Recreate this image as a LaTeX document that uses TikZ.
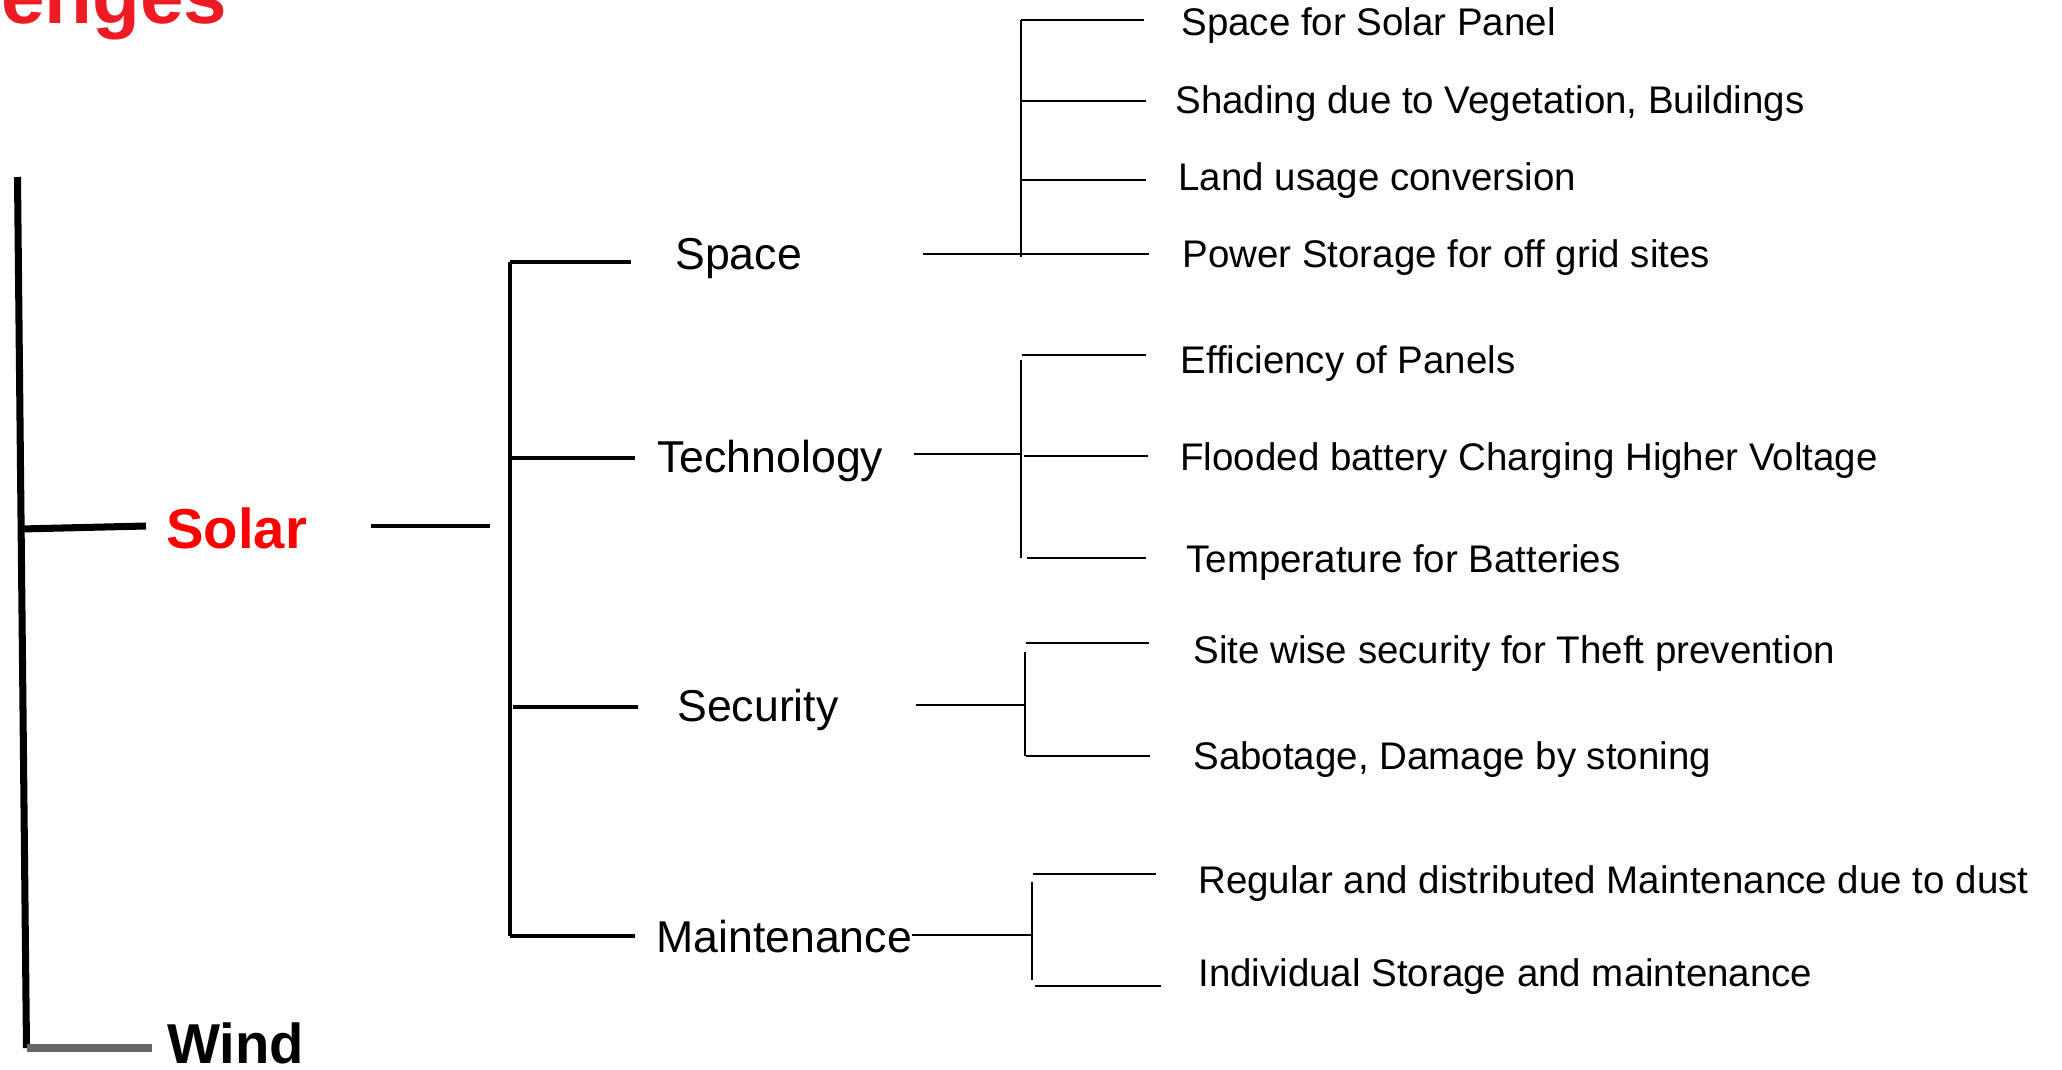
\documentclass[tikz,border=0pt]{standalone}
\usepackage{fontspec}
\setmainfont{Liberation Sans}
\definecolor{headred}{RGB}{237,28,36}
\definecolor{windgray}{RGB}{102,102,102}
\tikzset{
  trunk/.style={black, line width=4pt},
  bough/.style={black, line width=2.3pt},
  twig/.style={black, line width=1.3pt},
  kind/.style={anchor=base west, font=\fontsize{32}{36}\selectfont\bfseries},
  topic/.style={anchor=base west, font=\fontsize{25.4}{28}\selectfont},
  leaf/.style={anchor=base west, font=\fontsize{21.9}{24}\selectfont},
}
\begin{document}
\begin{tikzpicture}[scale=0.2]
\tikzstyle{every node}+=[inner sep=0pt]
\useasboundingbox (0,0) rectangle (206.2,-106.9);
\clip (0,0) rectangle (206.2,-106.9);
% heading, runs off the top edge
\draw (0.1,-2.3) node [anchor=base west, text=headred, font=\fontsize{44.5}{46}\selectfont\bfseries] (head) {enges};
% trunk with the two kinds
\coordinate (rtop) at (1.75,-17.7);
\coordinate (rbot) at (2.65,-104.8);
\coordinate (rsol) at (2.1,-52.9);
\coordinate (solin) at (14.6,-52.6);
\coordinate (rwind) at (2.7,-104.8);
\coordinate (windin) at (15.2,-104.8);
\draw [trunk] (rtop) -- (rbot);
\draw [trunk] (rsol) -- (solin);
\draw [trunk, windgray] (rwind) -- (windin);
\draw (16.6,-54.8) node [kind, text=red] (solar) {Solar};
\draw (16.7,-106.3) node [kind] (wind) {Wind};
% solar -> topics
\coordinate (solout) at (37.1,-52.6);
\coordinate (hubin) at (49.0,-52.6);
\draw [line width=2pt] (solout) -- (hubin);
\coordinate (htop) at (51.0,-26.2);
\coordinate (hbot) at (51.0,-93.6);
\coordinate (hsp) at (63.1,-26.2);
\coordinate (hte0) at (51.0,-45.8);
\coordinate (hte) at (63.5,-45.8);
\coordinate (hse0) at (51.3,-70.7);
\coordinate (hse) at (63.8,-70.7);
\coordinate (hmt) at (63.5,-93.6);
\draw [bough] (htop) -- (hbot);
\draw [bough] (htop) -- (hsp);
\draw [bough] (hte0) -- (hte);
\draw [bough] (hse0) -- (hse);
\draw [bough] (hbot) -- (hmt);
\draw (67.5,-26.9) node [topic] (space) {Space};
\draw (65.7,-47.2) node [topic] (tech) {Technology};
\draw (67.7,-72.1) node [topic] (secu) {Security};
\draw (65.6,-95.2) node [topic] (maint) {Maintenance};
% space
\coordinate (spin) at (92.3,-25.4);
\coordinate (spj) at (102.1,-25.4);
\coordinate (spt) at (102.1,-2.0);
\coordinate (spb) at (102.1,-25.7);
\coordinate (spj2) at (102.1,-10.1);
\coordinate (spj3) at (102.1,-18.0);
\coordinate (sp1) at (114.4,-2.0);
\coordinate (sp2) at (114.6,-10.1);
\coordinate (sp3) at (114.6,-18.0);
\coordinate (sp4) at (114.9,-25.4);
\draw [twig] (spin) -- (spj);
\draw [twig] (spt) -- (spb);
\draw [twig] (spt) -- (sp1);
\draw [twig] (spj2) -- (sp2);
\draw [twig] (spj3) -- (sp3);
\draw [twig] (spj) -- (sp4);
\draw (118.1,-3.5) node [leaf] (s1) {Space for Solar Panel};
\draw (117.5,-11.3) node [leaf] (s2) {Shading due to Vegetation, Buildings};
\draw (117.8,-19.0) node [leaf] (s3) {Land usage conversion};
\draw (118.2,-26.7) node [leaf] (s4) {Power Storage for off grid sites};
% technology
\coordinate (tein) at (91.4,-45.4);
\coordinate (tej) at (102.1,-45.4);
\coordinate (tet) at (102.1,-36.0);
\coordinate (teb) at (102.1,-55.8);
\coordinate (tej1) at (102.2,-35.5);
\coordinate (tej2) at (102.4,-45.6);
\coordinate (tej3) at (102.7,-55.8);
\coordinate (te1) at (114.6,-35.5);
\coordinate (te2) at (114.8,-45.6);
\coordinate (te3) at (114.6,-55.8);
\draw [twig] (tein) -- (tej);
\draw [twig] (tet) -- (teb);
\draw [twig] (tej1) -- (te1);
\draw [twig] (tej2) -- (te2);
\draw [twig] (tej3) -- (te3);
\draw (118.0,-37.3) node [leaf] (t1) {Efficiency of Panels};
\draw (118.0,-47.0) node [leaf] (t2) {Flooded battery Charging Higher Voltage};
\draw (118.6,-57.2) node [leaf] (t3) {Temperature for Batteries};
% security
\coordinate (sein) at (91.6,-70.5);
\coordinate (sej) at (102.5,-70.5);
\coordinate (set) at (102.5,-65.2);
\coordinate (seb) at (102.5,-75.6);
\coordinate (sej1) at (102.6,-64.3);
\coordinate (sej2) at (102.6,-75.6);
\coordinate (se1) at (114.9,-64.3);
\coordinate (se2) at (115.0,-75.6);
\draw [twig] (sein) -- (sej);
\draw [twig] (set) -- (seb);
\draw [twig] (sej1) -- (se1);
\draw [twig] (sej2) -- (se2);
\draw (119.3,-66.35) node [leaf] (c1) {Site wise security for Theft prevention};
\draw (119.3,-76.95) node [leaf] (c2) {Sabotage, Damage by stoning};
% maintenance
\coordinate (mtj) at (103.1,-93.5);
\coordinate (mtt) at (103.2,-88.2);
\coordinate (mtb) at (103.2,-98.0);
\coordinate (mtj1) at (103.3,-87.4);
\coordinate (mtj2) at (103.5,-98.6);
\coordinate (mt1) at (115.6,-87.4);
\coordinate (mt2) at (116.1,-98.6);
\draw [twig] (maint.east |- mtj) -- (mtj);
\draw [twig] (mtt) -- (mtb);
\draw [twig] (mtj1) -- (mt1);
\draw [twig] (mtj2) -- (mt2);
\draw (119.8,-89.3) node [leaf] (m1) {Regular and distributed Maintenance due to dust};
\draw (119.8,-98.65) node [leaf] (m2) {Individual Storage and maintenance};
\end{tikzpicture}
\end{document}
